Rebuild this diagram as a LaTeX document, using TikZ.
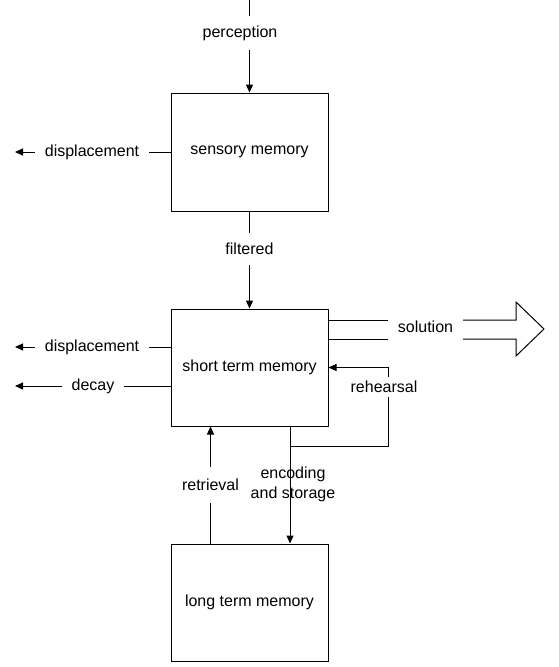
\documentclass[tikz,border=0pt]{standalone}
\usepackage{fontspec}
\setmainfont{Liberation Sans}
\usetikzlibrary{arrows.meta,calc}

\begin{document}
\begin{tikzpicture}[x=1pt,y=-1pt,line width=1pt,
  >={Triangle[length=8pt,width=7pt]},
  font=\fontsize{16}{20}\selectfont,
  memory/.style={draw,minimum width=157pt,minimum height=117pt,inner sep=0pt},
  lbl/.style={inner sep=0pt,outer sep=10pt}]
  \useasboundingbox (0,0) rectangle (559,667);
  % the three stores
  \node[memory,minimum height=118pt] (sens) at (249.5,152) {sensory memory};
  \node[memory] (stm) at (249.5,367.5) {short term memory};
  \node[memory] (ltm) at (249.5,602.5) {long term memory};
  % labels
  \node[lbl] (perc) at (240,33) {perception};
  \node[lbl] (filt) at (249.5,249) {filtered};
  \node[lbl] (disp1) at (92,152) {displacement};
  \node[lbl] (disp2) at (92,347) {displacement};
  \node[lbl] (decay) at (93,386) {decay};
  \node[lbl] (sol) at (425.5,327) {solution};
  \node[lbl,outer sep=4pt] (reh) at (384,387) {rehearsal};
  \node[lbl,outer sep=12pt] (retr) at (210.5,485) {retrieval};
  \node[lbl,align=center] (enc) at (293,484) {encoding\\and storage};
  \coordinate (out) at (15,0);
  \coordinate (es) at (290,0);
  \coordinate (rh) at (388,446);
  % into sensory memory
  \draw (sens.north |- 0,0) -- (sens.north |- perc.north);
  \draw[->] (sens.north |- perc.south) -- (sens.north);
  \draw (sens.south) -- (filt.north);
  \draw[->] (filt.south) -- (stm.north);
  % losses
  \draw (sens.west) -- (disp1.east);
  \draw[->] (disp1.west) -- (disp1.west -| out);
  \draw (stm.west |- disp2) -- (disp2.east);
  \draw[->] (disp2.west) -- (disp2.west -| out);
  \draw (stm.west |- decay) -- (decay.east);
  \draw[->] (decay.west) -- (decay.west -| out);
  % solution
  \draw (stm.east |- 0,320) -- (sol.west |- 0,320);
  \draw (stm.east |- 0,339) -- (sol.west |- 0,339);
  \draw (sol.east |- 0,320) -- (516,320) -- (516,302) -- (544,329)
    -- (516,356) -- (516,339) -- (sol.east |- 0,339);
  % rehearsal loop
  \draw (stm.south -| es) |- (rh) -- (rh |- reh.south);
  \draw[->] (rh |- reh.north) -- (rh |- stm.east) -- (stm.east);
  % long term memory
  \draw[->] (stm.south -| es) -- (ltm.north -| es);
  \draw (ltm.north -| retr) -- (retr.south);
  \draw[->] (retr.north) -- (stm.south -| retr);
\end{tikzpicture}
\end{document}
